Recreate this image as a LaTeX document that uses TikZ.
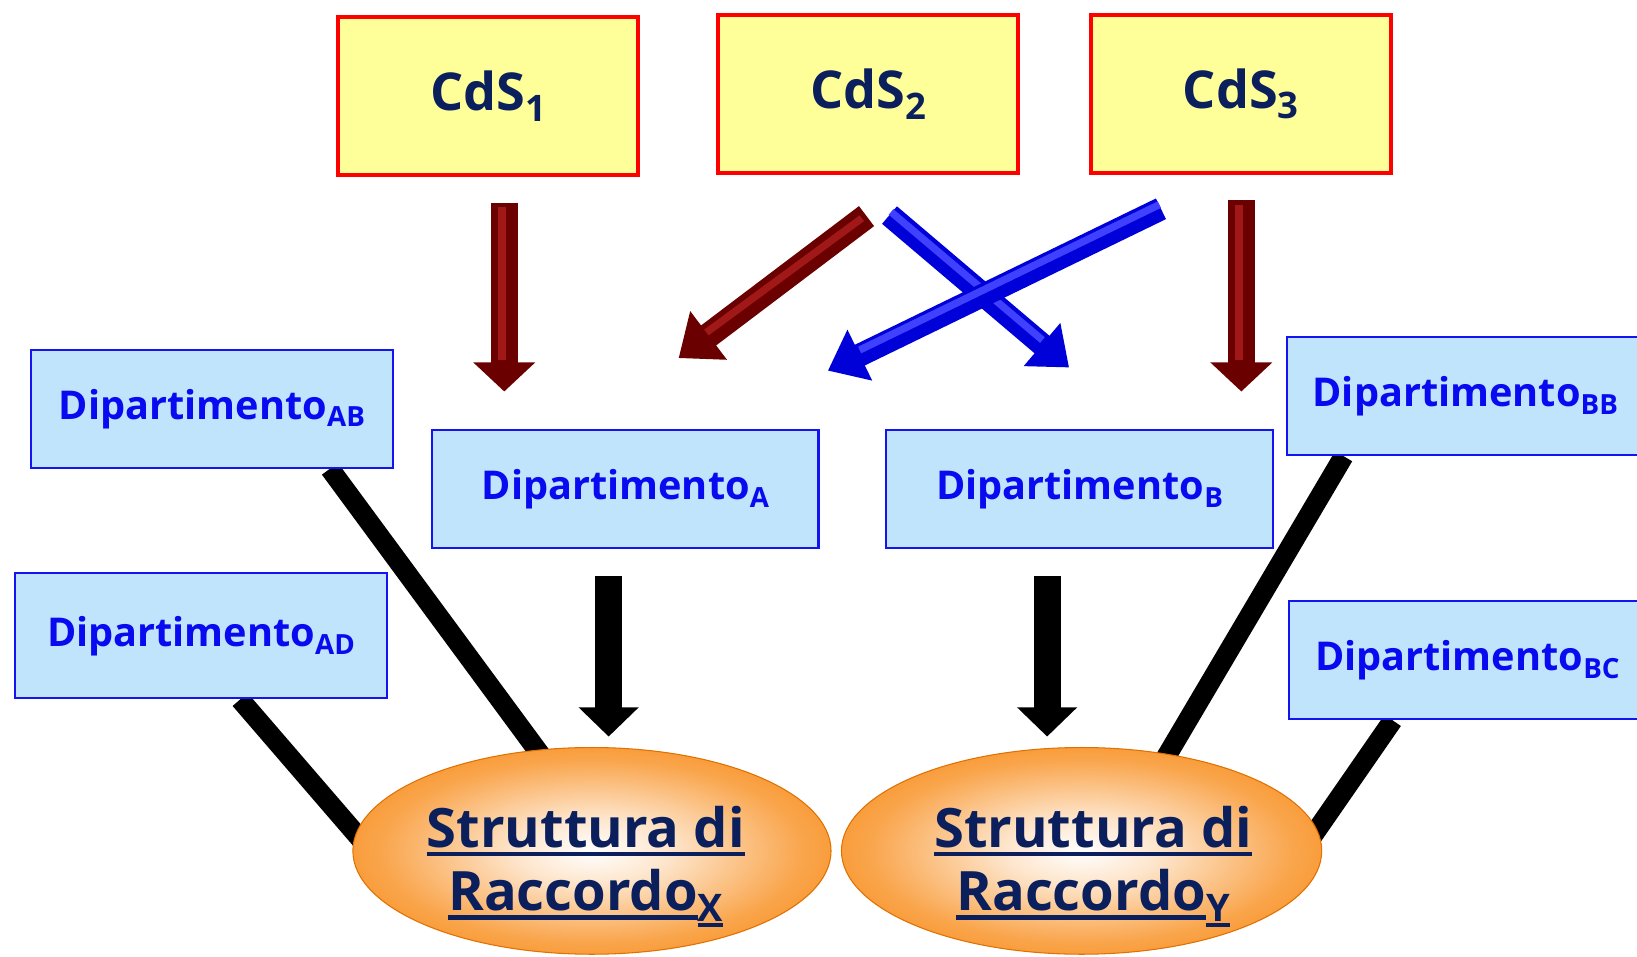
\documentclass[tikz,border=0pt]{standalone}
\usepackage{fontspec}
\setmainfont{Open Sans}
\usepackage{graphicx}
\usetikzlibrary{arrows.meta,calc,shapes.geometric,backgrounds}
\definecolor{cdsfill}{HTML}{FFFF99}
\definecolor{cdsred}{HTML}{FF0000}
\definecolor{navy}{HTML}{0A1F5C}
\definecolor{depfill}{HTML}{BFE4FC}
\definecolor{depblue}{HTML}{1414F0}
\definecolor{deptext}{HTML}{0A0AF0}
\definecolor{orng}{HTML}{F77F00}
\definecolor{orngdark}{HTML}{E07000}
\definecolor{redA}{HTML}{6A0000}
\definecolor{redB}{HTML}{A01818}
\definecolor{bluA}{HTML}{0000D8}
\definecolor{bluB}{HTML}{4040FF}
\pgfdeclareradialshading{glow}{\pgfpoint{0bp}{0bp}}{color(0bp)=(white); color(8bp)=(white!80!orng); color(22bp)=(white!30!orng); color(36bp)=(orng); color(50bp)=(orng)}
\newcommand\lowsub[1]{\raisebox{-0.2em}{\scalebox{0.7}{#1}}}
\newcommand\ulin[2][0.16em]{\leavevmode\setbox0=\hbox{#2}\rlap{\rule[-#1]{\wd0}{0.075em}}\box0}
\begin{document}
\begin{tikzpicture}[x=1pt,y=-1pt,
 cds/.style={draw=cdsred,line width=4pt,fill=cdsfill,minimum width=287pt,minimum height=152pt,inner sep=0pt,text=navy,font=\fontsize{50}{60}\selectfont\bfseries},
 dep/.style={draw=depblue,line width=2pt,fill=depfill,minimum height=113pt,inner sep=0pt,text=deptext,font=\fontsize{38}{46}\selectfont\bfseries},
 ell/.style={ellipse,draw=orngdark,line width=1pt,shading=glow,minimum width=458pt,minimum height=198pt,inner sep=0pt},
 elltext/.style={text=navy,align=center,font=\fontsize{52}{61}\selectfont\bfseries},
 link/.style={line width=19pt,black},
 blk/.style={line width=26pt,black,-{Triangle[width=56pt,length=28pt]}},
 redarr/.style={line width=26pt,redA,-{Triangle[width=58pt,length=28pt]}},
 redhl/.style={line width=8pt,redB,shorten >=30pt},
 dredarr/.style={line width=24pt,redA,-{Triangle[width=56pt,length=36pt]}},
 dredhl/.style={line width=7pt,redB,shorten >=38pt},
 bluarr/.style={line width=22pt,bluA,-{Triangle[width=52pt,length=34pt]}},
 bluhl/.style={line width=7pt,bluB,shorten >=36pt},
]
\useasboundingbox (0,0) rectangle (1568,916);
% top boxes
\node[cds] (C1) at (467.5,92) {CdS\lowsub{1}};
\node[cds] (C2) at (831.5,90) {CdS\lowsub{2}};
\node[cds] (C3) at (1188.5,90) {CdS\lowsub{3}};
% department boxes
\node[dep,minimum width=346pt] (AB) at (203,391.5) {Dipartimento\lowsub{AB}};
\node[dep,minimum width=357pt,minimum height=120pt] (AD) at (192.5,609) {Dipartimento\lowsub{AD}};
\node[dep,minimum width=370pt] (A) at (599,468.5) {Dipartimento\lowsub{A}};
\node[dep,minimum width=370pt] (B) at (1034,468.5) {Dipartimento\lowsub{B}};
\node[dep,minimum width=341pt] (BB) at (1403.5,379.5) {Dipartimento\lowsub{BB}};
\node[dep,minimum width=341pt] (BC) at (1405.5,632.5) {Dipartimento\lowsub{BC}};
% ellipses
\node[ell] (X) at (567,815) {};
\node[ell,minimum width=460pt] (Y) at (1036,815) {};
\node[elltext] (Xt) at (561,830) {\ulin{Struttura di}\\\ulin{Raccordo}\ulin[0.3em]{\lowsub{X}}};
\node[elltext] (Yt) at (1047,830) {\ulin{Struttura di}\\\ulin{Raccordo}\ulin[0.3em]{\lowsub{Y}}};
% thick black links behind
\begin{scope}[on background layer]
\draw[link] ($(AB.south west)+(287,0)$) -- ($(X.center)+(-44,-85)$);
\draw[link] ($(AD.south west)+(217,0)$) -- ($(X.center)+(-212,0)$);
\draw[link] ($(BB.south west)+(55,0)$) -- ($(Y.center)+(78,-85)$);
\draw[link] ($(BC.south west)+(100,0)$) -- ($(Y.center)+(217,-8)$);
\end{scope}
% black block arrows
\draw[blk] ($(A.south)+(-16,26)$) -- ($(X.north)+(16,-10)$);
\draw[blk] ($(B.south)+(-31,26)$) -- ($(Y.north)+(-33,-10)$);
% red vertical arrows
\draw[redarr] ($(C1.south)+(15.5,24)$) -- ($(A.north)+(-116,-36)$);
\draw[redhl] ($(C1.south)+(13.5,28)$) -- ($(A.north)+(-118,-36)$);
\draw[redarr] ($(C3.south)+(0.5,24)$) -- ($(B.north)+(155,-36)$);
\draw[redhl] ($(C3.south)+(-1.5,28)$) -- ($(B.north)+(153,-36)$);
% red diagonal arrow
\draw[dredarr] ($(C2.south)+(-1.5,39)$) -- ($(A.north)+(51,-68)$);
\draw[dredhl] ($(C2.south)+(-6,41)$) -- ($(A.north)+(47,-70)$);
% blue crossing arrows
\draw[bluarr] ($(C2.south)+(20.5,38)$) -- ($(B.north)+(-10,-59)$);
\draw[bluhl] ($(C2.south)+(22,35)$) -- ($(B.north)+(-8,-62)$);
\draw[bluarr] ($(C3.south)+(-76.5,32)$) -- ($(A.north)+(194,-56)$);
\draw[bluhl] ($(C3.south)+(-78,28)$) -- ($(A.north)+(192,-60)$);
\end{tikzpicture}
\end{document}
